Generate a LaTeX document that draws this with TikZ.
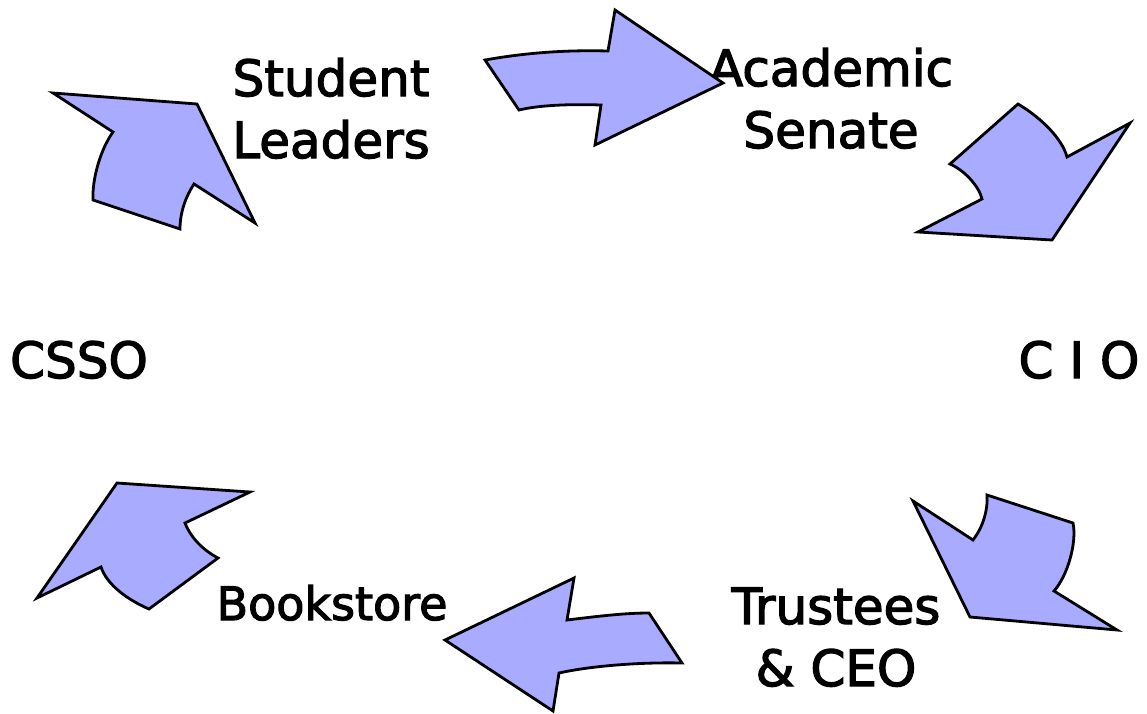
\documentclass[tikz,border=0pt]{standalone}
\usepackage{fontspec}
\setmainfont{DejaVu Sans}
\newfontfamily\labelfont{DejaVu Sans}[BoldFont={DejaVu Sans},BoldFeatures={FakeBold=2.5}]
\definecolor{arrowfill}{RGB}{168,171,255}
\begin{document}
\begin{tikzpicture}[x=1pt,y=-1pt,
  label/.style={font=\labelfont\bfseries\fontsize{50}{62}\selectfont, align=center, inner sep=0pt, anchor=base},
  smalllabel/.style={label, font=\labelfont\bfseries\fontsize{46}{62}\selectfont},
  bentarrow/.style={draw=black, line width=2.8pt, fill=arrowfill, line join=miter}]
\useasboundingbox (0,0) rectangle (1147,713);

% labels of the cycle (anchored on the baseline of the last line)
\node[label]      (students) at (331,158) {Student\\Leaders};
\node[label]      (senate)   at (831,148) {Academic\\Senate};
\node[label]      (cio)      at (1079,378) {C I O};
\node[label]      (trustees) at (836,686) {Trustees\\\& CEO};
\node[smalllabel] (books)    at (332,620) {Bookstore};
\node[label]      (csso)     at (79,378) {CSSO};

% students -> senate
\draw[bentarrow] (485,60) .. controls (530,52) and (570,50) .. (608,51)
  -- (615,10) -- (723,83) -- (595,145) -- (601,105)
  .. controls (570,104) and (540,105) .. (519,110) -- cycle;

% senate -> CIO
\draw[bentarrow] (1018,104) .. controls (1040,117) and (1062,138) .. (1067,157)
  -- (1130,123) -- (1052,240) -- (918,232) -- (982,199)
  .. controls (979,186) and (964,170) .. (950,164) -- cycle;

% CIO -> trustees
\draw[bentarrow] (913,501) -- (973,540)
  .. controls (983,527) and (988,510) .. (987,495)
  -- (1073,523) .. controls (1077,542) and (1068,575) .. (1054,591)
  -- (1117,630) -- (970,617) -- cycle;

% trustees -> bookstore
\draw[bentarrow] (445,640) -- (574,578) -- (567,620)
  .. controls (600,616) and (625,613) .. (649,613)
  -- (682,663) .. controls (640,662) and (590,666) .. (559,673)
  -- (553,711) -- cycle;

% bookstore -> CSSO
\draw[bentarrow] (117,483) -- (250,492) -- (185,523)
  .. controls (191,538) and (203,550) .. (218,558)
  -- (149,609) .. controls (128,600) and (107,585) .. (101,567)
  -- (37,598) -- cycle;

% CSSO -> students
\draw[bentarrow] (53,93) -- (197,104) -- (255,223) -- (194,184)
  .. controls (186,196) and (180,212) .. (180,229)
  -- (93,200) .. controls (92,180) and (100,150) .. (113,132) -- cycle;
\end{tikzpicture}
\end{document}
